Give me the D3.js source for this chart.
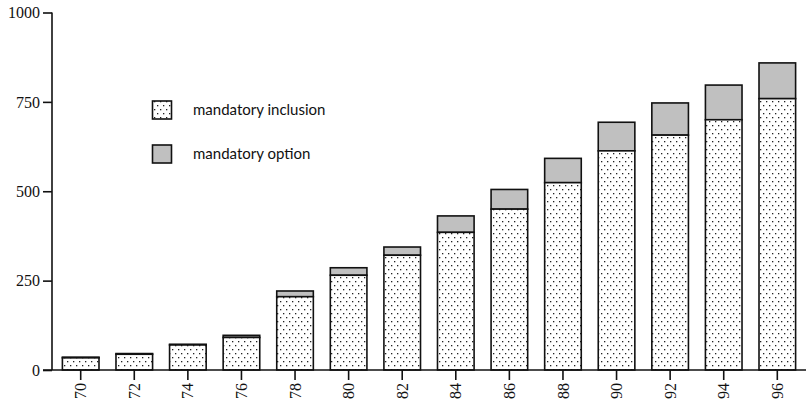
<!DOCTYPE html>
<html><head><meta charset="utf-8">
<script src="https://cdn.jsdelivr.net/npm/d3@7"></script>
<style>body{margin:0;background:#fff}svg{display:block}</style>
</head><body>
<svg id="c" width="808" height="405"></svg>
<script>
const years = ["70","72","74","76","78","80","82","84","86","88","90","92","94","96"];
const inclusion = [34, 44, 70, 91, 205, 265, 321, 385, 450, 524, 613, 657, 700, 759];
const option = [2, 2, 2, 6, 16, 21, 23, 46, 55, 68, 80, 90, 97, 100];
const yTicks = [0, 250, 500, 750, 1000];
const seriesNames = ["mandatory inclusion", "mandatory option"];

const svg = d3.select("#c");
const defs = svg.append("defs");
const pat = defs.append("pattern").attr("id","dots").attr("patternUnits","userSpaceOnUse")
  .attr("width",6).attr("height",8);
pat.append("rect").attr("width",6).attr("height",8).attr("fill","#fff");
pat.append("rect").attr("x",1).attr("y",1).attr("width",1.3).attr("height",1.3).attr("fill","#222");
pat.append("rect").attr("x",4).attr("y",5).attr("width",1.3).attr("height",1.3).attr("fill","#222");

const x = d3.scaleBand().domain(years).range([52, 806]).paddingInner(0.317).paddingOuter(0.194);
const y = d3.scaleLinear().domain([0, 1000]).range([370, 12.5]);

const data = years.map((yr,i)=>({yr, inc: inclusion[i], opt: option[i]}));
const g = svg.append("g");
// option (gray) full-height stacked bar
g.selectAll(".opt").data(data).join("rect")
  .attr("x", d=>x(d.yr)).attr("width", x.bandwidth())
  .attr("y", d=>y(d.inc+d.opt)).attr("height", d=>y(d.inc)-y(d.inc+d.opt))
  .attr("fill","#c0c0c0").attr("stroke","#111").attr("stroke-width",1.6);
g.selectAll(".inc").data(data).join("rect")
  .attr("x", d=>x(d.yr)).attr("width", x.bandwidth())
  .attr("y", d=>y(d.inc)).attr("height", d=>y(0)-y(d.inc))
  .attr("fill","url(#dots)").attr("stroke","#111").attr("stroke-width",1.6);

// Y axis
const ya = svg.append("g").attr("transform","translate(52,0)")
  .call(d3.axisLeft(y).tickValues(yTicks).tickSize(9).tickPadding(3).tickFormat(d3.format("d")));
ya.select(".domain").attr("d", `M0,${y(1000)}V${y(0)}`).attr("stroke","#111").attr("stroke-width",1.6);
ya.selectAll(".tick line").attr("stroke","#111").attr("stroke-width",1.6);
ya.selectAll(".tick text").attr("font-family","'Liberation Serif', serif").attr("font-size",16).attr("fill","#111");

// X axis
const xa = svg.append("g").attr("transform",`translate(0,${y(0)})`)
  .call(d3.axisBottom(x).tickSize(10).tickPadding(4));
xa.select(".domain").attr("d","M43,0H806").attr("stroke","#111").attr("stroke-width",1.6);
xa.selectAll(".tick line").attr("stroke","#111").attr("stroke-width",1.6);
xa.selectAll(".tick text").attr("font-family","'Liberation Serif', serif").attr("font-size",16).attr("fill","#111")
  .attr("transform","rotate(-90)").attr("text-anchor","end").attr("dy","0.35em").attr("x",-13).attr("y",0);

// Legend
const leg = svg.append("g");
const fills = ["url(#dots)", "#c0c0c0"];
seriesNames.forEach((n,i)=>{
  const ly = 101 + i*44;
  leg.append("rect").attr("x",152.5).attr("y",ly).attr("width",19).attr("height",18)
    .attr("fill",fills[i]).attr("stroke","#111").attr("stroke-width",1.6);
  leg.append("text").attr("x",193).attr("y",ly+14).text(n)
    .attr("font-family","Lato, sans-serif").attr("font-size",15).attr("fill","#111");
});
</script>
</body></html>
